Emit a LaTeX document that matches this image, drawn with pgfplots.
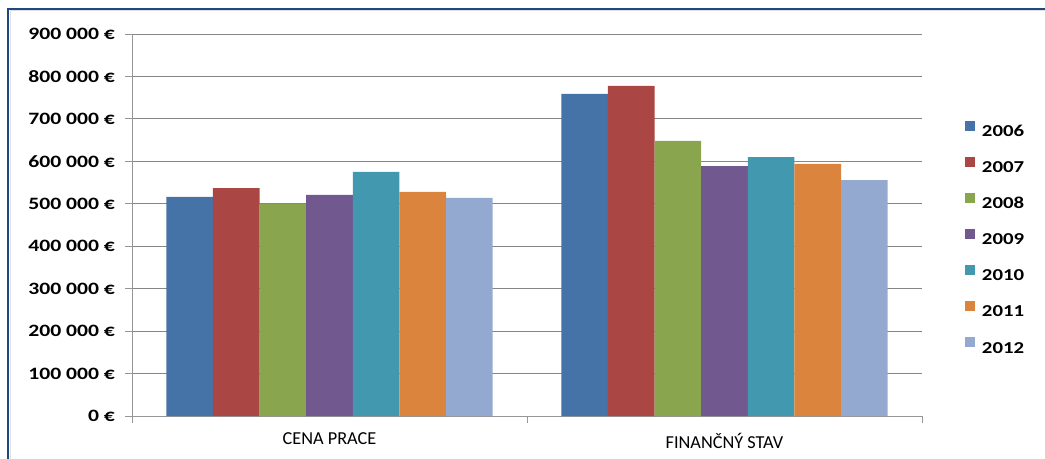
\documentclass[border=0pt]{standalone}
\usepackage{fontspec}
\setmainfont{Carlito}
\newfontfamily\tickfont[FakeStretch=1.25]{Carlito}
\usepackage{pgfplots}
\pgfplotsset{compat=1.18}

\definecolor{frameblue}{RGB}{31,73,125}
\definecolor{gridgray}{RGB}{134,134,134}
\definecolor{axisgray}{RGB}{150,150,150}
\definecolor{c2006}{RGB}{69,114,167}
\definecolor{c2007}{RGB}{170,70,67}
\definecolor{c2008}{RGB}{137,165,78}
\definecolor{c2009}{RGB}{113,88,143}
\definecolor{c2010}{RGB}{65,152,175}
\definecolor{c2011}{RGB}{219,132,61}
\definecolor{c2012}{RGB}{147,169,207}

\begin{document}
\begin{tikzpicture}
\useasboundingbox (0,0) rectangle (783.75pt,-344.25pt);
\draw[line width=1.5pt, frameblue] (6.2pt,-344.25pt) -- (6.2pt,-6.75pt) -- (783.75pt,-6.75pt);
\draw[line width=0.6pt, black!12] (7.6pt,-344.25pt) -- (7.6pt,-8.1pt) -- (783.75pt,-8.1pt);
\begin{axis}[
    at={(99pt,-312pt)}, anchor=south west,
    scale only axis, width=592.5pt, height=286.5pt,
    ybar=0pt, bar width=0.118,
    every axis plot post/.append style={
        legend image code/.code={\fill[##1] (0pt,0pt) rectangle (7.5pt,7.5pt);}},
    xmin=-0.5, xmax=1.5, ymin=0, ymax=900000,
    scaled y ticks=false,
    axis x line*=bottom, axis y line*=left,
    axis line style={axisgray, line width=0.75pt},
    tick align=outside,
    major tick length=5.25pt, minor tick length=5.25pt,
    xtick={0,1}, xticklabels={CENA PRACE, FINANČNÝ STAV},
    minor xtick={-0.5,0.5,1.5},
    major x tick style={draw=none},
    minor x tick style={axisgray, line width=0.75pt},
    ytick={0,100000,...,900000},
    yticklabels={0~€,100~000~€,200~000~€,300~000~€,400~000~€,500~000~€,600~000~€,700~000~€,800~000~€,900~000~€},
    y tick style={axisgray, line width=0.75pt},
    ymajorgrids, major grid style={gridgray, line width=0.75pt},
    yticklabel style={font=\tickfont\bfseries\fontsize{13}{15}\selectfont, xshift=-4pt},
    xticklabel style={font=\fontsize{13.7}{16}\selectfont, yshift=-4pt},
    legend style={at={(1,0.5)}, anchor=west, xshift=32pt, yshift=-9pt,
        draw=none, fill=none, inner sep=0pt,
        font=\tickfont\bfseries\fontsize{12.5}{15}\selectfont,
        nodes={inner sep=0pt, text height=8.5pt, text depth=0pt},
        row sep=15.3pt},
    legend cell align=left,
]
\addplot+[fill=c2006, draw=none] coordinates {(0,516000) (1,759000)};
\addplot+[fill=c2007, draw=none] coordinates {(0,537000) (1,778000)};
\addplot+[fill=c2008, draw=none] coordinates {(0,500000) (1,648000)};
\addplot+[fill=c2009, draw=none] coordinates {(0,521000) (1,589000)};
\addplot+[fill=c2010, draw=none] coordinates {(0,575000) (1,610000)};
\addplot+[fill=c2011, draw=none] coordinates {(0,528000) (1,594000)};
\addplot+[fill=c2012, draw=none] coordinates {(0,514000) (1,556000)};
\legend{\hspace{5.25pt}2006,\hspace{5.25pt}2007,\hspace{5.25pt}2008,\hspace{5.25pt}2009,\hspace{5.25pt}2010,\hspace{5.25pt}2011,\hspace{5.25pt}2012}
\end{axis}
\end{tikzpicture}
\end{document}
